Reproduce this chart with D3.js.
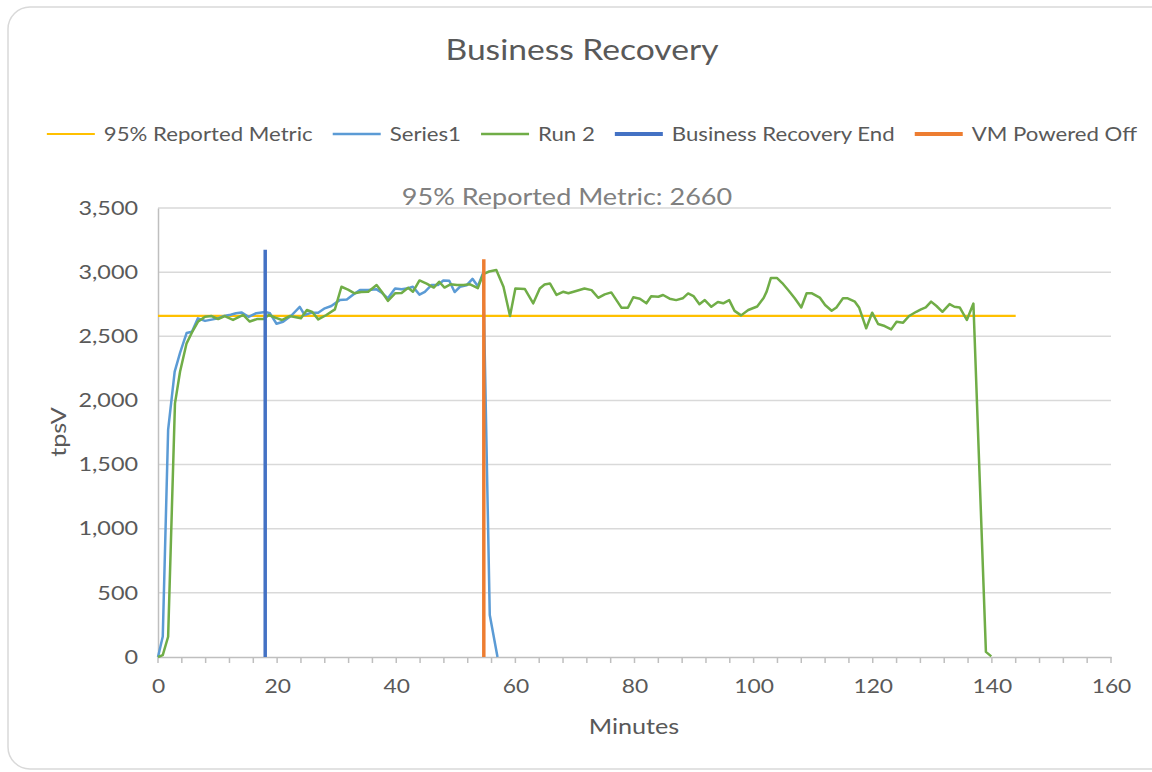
<!DOCTYPE html>
<html><head><meta charset="utf-8">
<script src="https://cdn.jsdelivr.net/npm/d3@7"></script>
<style>
html,body{margin:0;padding:0;background:#fff;}
svg{display:block;}
text{font-family:Lato,"Liberation Sans",sans-serif;fill:#595959;}
</style></head>
<body>
<svg id="chart" width="1152" height="772"></svg>
<script>
// ---- data ----
const chartTitle = "Business Recovery";
const xTickValues = [0, 20, 40, 60, 80, 100, 120, 140, 160];
const yTickValues = [0, 500, 1000, 1500, 2000, 2500, 3000, 3500];
const legendLabels = ["95% Reported Metric", "Series1", "Run 2", "Business Recovery End", "VM Powered Off"];

const reportedMetric = 2660;
const reportedMetricSpan = [0, 144];

const series1Minutes = [0,0.8,1.7,2.8,3.7,4.8,5.7,6.7,7.9,9.0,10.1,11.1,12.2,13.1,14.0,15.2,16.5,18.0,18.8,19.9,21.0,22.4,23.8,24.6,25.8,26.9,28.0,29.1,30.5,31.7,32.8,33.9,35.3,36.7,37.5,38.6,39.8,40.9,42.0,42.8,43.9,44.8,45.9,47.0,47.9,48.9,49.8,50.7,51.8,52.8,53.7,54.6,55.7,57.0];
const series1Values  = [0,160,1770,2225,2370,2525,2535,2640,2620,2630,2640,2658,2668,2680,2686,2652,2680,2690,2679,2598,2613,2662,2730,2666,2684,2684,2718,2736,2782,2786,2825,2860,2860,2866,2842,2796,2873,2866,2875,2886,2825,2847,2899,2900,2935,2933,2845,2886,2897,2948,2890,2995,327,0];

const run2Minutes = [0,0.8,1.7,2.85,3.7,4.8,5.7,6.7,7.9,9.0,10.1,11.2,12.6,14.3,15.4,16.6,17.7,18.6,19.7,20.8,22.1,24.0,25.0,25.9,26.9,28.2,29.7,30.8,31.9,33.0,34.1,35.3,36.7,37.6,38.6,39.8,40.9,42.0,42.8,43.9,45.1,46.3,47.2,48.1,49.1,50.2,51.3,52.4,53.7,54.6,55.6,56.8,58.0,59.1,60.0,61.6,63.0,64.1,64.9,65.8,66.9,68.0,68.9,70.2,71.6,72.8,73.9,75.0,76.1,77.8,78.9,79.8,80.9,82.0,82.8,84.0,84.8,85.9,87.0,88.1,89.0,89.9,90.9,91.8,92.9,94.0,94.9,95.9,96.8,97.9,99.1,100.6,101.7,102.2,102.9,103.9,104.8,105.9,106.9,108.0,108.9,109.8,111.1,112.0,113.1,113.9,115.0,115.8,117.0,117.7,118.9,119.9,120.9,122.0,123.1,124.0,125.1,126.1,127.3,128.1,128.9,129.8,130.7,131.7,132.9,133.7,134.6,135.8,136.9,139.0,139.9];
const run2Values  = [0,15,158,1977,2224,2445,2530,2613,2652,2658,2634,2658,2627,2666,2615,2634,2634,2666,2645,2627,2658,2640,2705,2690,2632,2664,2710,2886,2864,2835,2845,2847,2899,2845,2776,2835,2838,2878,2847,2935,2910,2880,2925,2880,2905,2899,2900,2905,2875,2985,3005,3016,2886,2658,2873,2868,2757,2873,2904,2912,2822,2847,2835,2853,2873,2860,2800,2827,2842,2723,2723,2804,2793,2757,2812,2808,2822,2793,2782,2796,2834,2814,2750,2782,2730,2767,2757,2782,2698,2663,2705,2732,2800,2850,2955,2955,2915,2855,2796,2724,2835,2835,2802,2744,2699,2725,2796,2796,2770,2725,2562,2684,2596,2580,2554,2613,2606,2658,2691,2710,2725,2770,2736,2691,2751,2730,2725,2627,2755,40,5];

const businessRecoveryEndMinute = 18;
const businessRecoveryEndTop = 3175;
const vmPoweredOffMinute = 54.7;
const vmPoweredOffTop = 3100;

const colors = {
  metric: "#FFC000",
  series1: "#5B9BD5",
  run2: "#70AD47",
  bre: "#4472C4",
  vm: "#ED7D31"
};

// ---- drawing ----
const S = 1.2; // horizontal text stretch to mimic the reference lettering
function stretch(sel) {
  sel.each(function () {
    const t = d3.select(this);
    const xx = +t.attr("x") || 0;
    t.attr("transform", `translate(${xx * (1 - S)},0) scale(${S},1)`);
  });
}

const svg = d3.select("#chart");

svg.append("rect")
  .attr("x", 8).attr("y", 7).attr("width", 1170).attr("height", 762)
  .attr("rx", 22).attr("ry", 22)
  .attr("fill", "#fff").attr("stroke", "#d9d9d9").attr("stroke-width", 1.5);

const x = d3.scaleLinear().domain([0, 160]).range([158, 1111]);
const y = d3.scaleLinear().domain([0, 3500]).range([657, 208]);

// gridlines
svg.append("g")
  .selectAll("line").data(yTickValues.filter(v => v > 0)).join("line")
  .attr("x1", x(0)).attr("x2", x(160))
  .attr("y1", d => y(d)).attr("y2", d => y(d))
  .attr("stroke", "#d9d9d9").attr("stroke-width", 1.5);

// y axis
const yAxis = svg.append("g").attr("transform", `translate(${x(0)},0)`)
  .call(d3.axisLeft(y).tickValues(yTickValues).tickFormat(d3.format(",")).tickSize(0).tickPadding(20));
yAxis.select(".domain").attr("stroke", "#bfbfbf").attr("stroke-width", 1.5);
yAxis.selectAll("text").attr("font-size", 19.5).attr("fill", "#595959")
  .style("font-family", "Lato, 'Liberation Sans', sans-serif").call(stretch);

// x axis
const xAxis = svg.append("g").attr("transform", `translate(0,${y(0)})`)
  .call(d3.axisBottom(x).tickValues(xTickValues).tickSize(0).tickPadding(23));
xAxis.select(".domain").attr("stroke", "#bfbfbf").attr("stroke-width", 1.5);
xAxis.selectAll("text").attr("font-size", 19).attr("fill", "#595959")
  .style("font-family", "Lato, 'Liberation Sans', sans-serif").call(stretch);
// tick marks every 4 minutes
svg.append("g").selectAll("line").data(d3.range(0, 161, 4)).join("line")
  .attr("x1", d => x(d)).attr("x2", d => x(d))
  .attr("y1", y(0)).attr("y2", y(0) + 6)
  .attr("stroke", "#bfbfbf").attr("stroke-width", 1.5);

// reference line
svg.append("line")
  .attr("x1", x(reportedMetricSpan[0])).attr("x2", x(reportedMetricSpan[1]))
  .attr("y1", y(reportedMetric)).attr("y2", y(reportedMetric))
  .attr("stroke", colors.metric).attr("stroke-width", 2.25);

const line = d3.line().x(d => x(d[0])).y(d => y(d[1]));
const s1 = series1Minutes.map((m, i) => [m, series1Values[i]]);
const r2 = run2Minutes.map((m, i) => [m, run2Values[i]]);

svg.append("path").datum(s1).attr("d", line)
  .attr("fill", "none").attr("stroke", colors.series1).attr("stroke-width", 2.5)
  .attr("stroke-linejoin", "round");
svg.append("path").datum(r2).attr("d", line)
  .attr("fill", "none").attr("stroke", colors.run2).attr("stroke-width", 2.5)
  .attr("stroke-linejoin", "round");

// vertical markers
svg.append("line")
  .attr("x1", x(businessRecoveryEndMinute)).attr("x2", x(businessRecoveryEndMinute))
  .attr("y1", y(0)).attr("y2", y(businessRecoveryEndTop))
  .attr("stroke", colors.bre).attr("stroke-width", 3.5);
svg.append("line")
  .attr("x1", x(vmPoweredOffMinute)).attr("x2", x(vmPoweredOffMinute))
  .attr("y1", y(0)).attr("y2", y(vmPoweredOffTop))
  .attr("stroke", colors.vm).attr("stroke-width", 3.5);

// title
svg.append("text").attr("x", 582).attr("y", 60).attr("text-anchor", "middle")
  .attr("font-size", 28).text(chartTitle).call(stretch);

// annotation
svg.append("text").attr("x", 567).attr("y", 205).attr("text-anchor", "middle")
  .attr("font-size", 22.5).style("fill", "#808080")
  .text("95% Reported Metric: " + reportedMetric).call(stretch);

// axis titles
svg.append("text").attr("x", 634).attr("y", 734).attr("text-anchor", "middle")
  .attr("font-size", 21).text("Minutes").call(stretch);
svg.append("text").attr("transform", `translate(66,432) rotate(-90) scale(${S},1)`)
  .attr("text-anchor", "middle").attr("font-size", 21).text("tpsV");

// legend
const legendColors = [colors.metric, colors.series1, colors.run2, colors.bre, colors.vm];
const legendWidths = [2, 2.5, 2.5, 4, 4];
const lg = svg.append("g");
const items = legendLabels.map((lab, i) => {
  const g = lg.append("g");
  g.append("line").attr("x1", 0).attr("x2", 48).attr("y1", 0).attr("y2", 0)
    .attr("stroke", legendColors[i]).attr("stroke-width", legendWidths[i]);
  const t = g.append("text").attr("x", 57).attr("y", 7).attr("font-size", 18.5).text(lab);
  const w = t.node().getComputedTextLength() * S;
  t.call(stretch);
  return {g, w: 57 + w};
});
const gap = 20;
const total = d3.sum(items, d => d.w) + gap * (items.length - 1);
let cx = 592 - total / 2;
items.forEach(it => { it.g.attr("transform", `translate(${cx},134)`); cx += it.w + gap; });
</script>
</body></html>
